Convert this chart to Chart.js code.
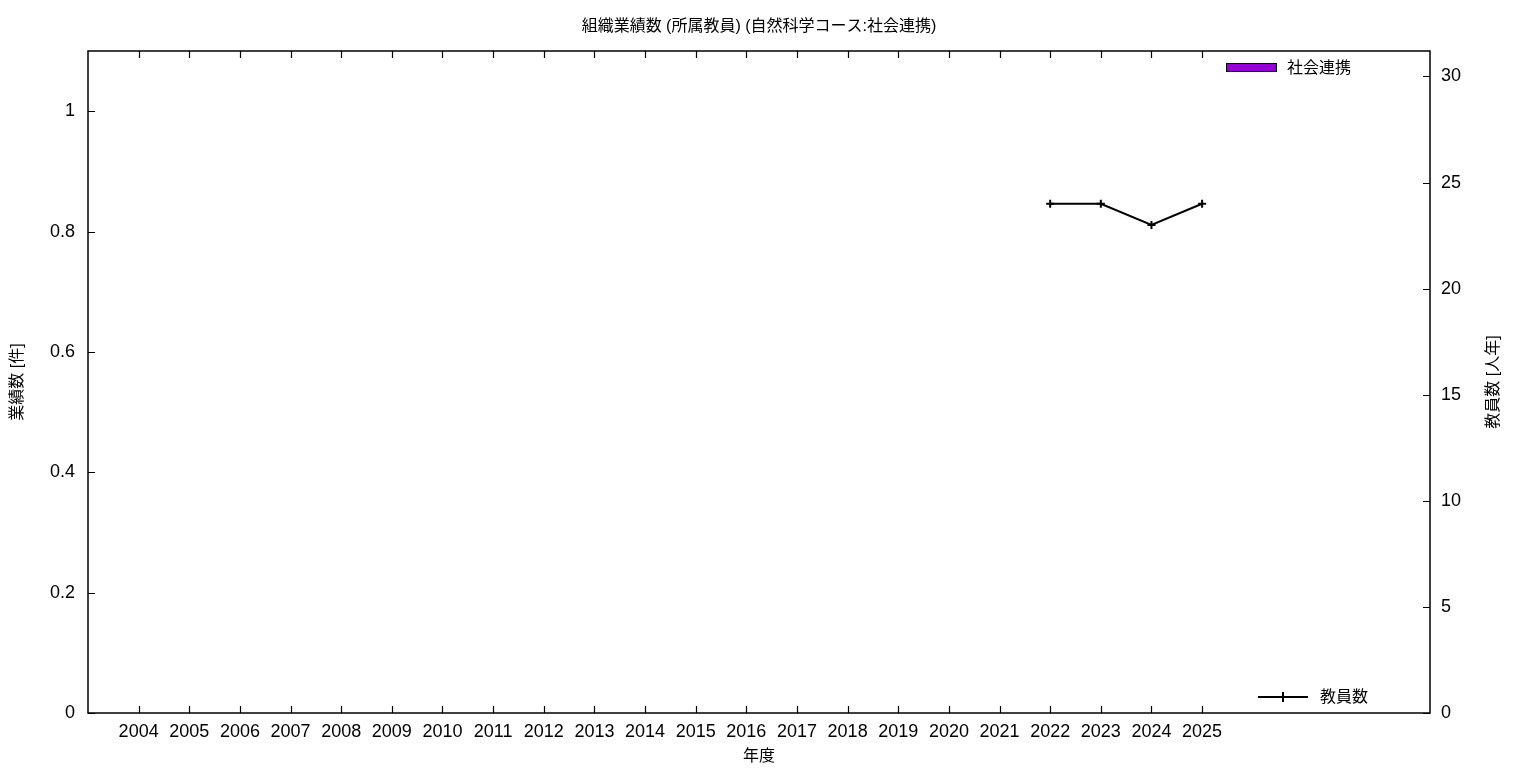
<!DOCTYPE html>
<html>
<head>
<meta charset="utf-8">
<script src="https://cdn.jsdelivr.net/npm/chart.js@4"></script>
<style>
html,body{margin:0;padding:0;background:#fff;}
#wrap{width:1536px;height:768px;}
</style>
</head>
<body>
<div id="wrap"><canvas id="c" width="1536" height="768"></canvas></div>
<script>
const years = [2004,2005,2006,2007,2008,2009,2010,2011,2012,2013,2014,2015,2016,2017,2018,2019,2020,2021,2022,2023,2024,2025];
const outreach = [0,0,0,0,0,0,0,0,0,0,0,0,0,0,0,0,0,0,0,0,0,0];
const staffYears = [2022,2023,2024,2025];
const staff = [24,24,23,24];
const leftTicks = [0,0.2,0.4,0.6,0.8,1];
const rightTicks = [0,5,10,15,20,25,30];
const chartTitle = '組織業績数 (所属教員) (自然科学コース:社会連携)';
const rightAxisTitle = '教員数 [人年]';

const FONT = '"Liberation Sans","Noto Sans CJK JP",sans-serif';

const framePlugin = {
  id: 'frame',
  afterDraw(chart) {
    const {ctx, chartArea: a, scales} = chart;
    ctx.save();
    ctx.strokeStyle = '#000';
    ctx.lineWidth = 1.5;
    ctx.strokeRect(a.left, a.top, a.right - a.left, a.bottom - a.top);
    ctx.lineWidth = 1.2;
    const L = 7;
    ctx.beginPath();
    scales.x.ticks.forEach(t => {
      const px = Math.round(scales.x.getPixelForValue(t.value)) + 0.5;
      ctx.moveTo(px, a.bottom); ctx.lineTo(px, a.bottom - L);
      ctx.moveTo(px, a.top); ctx.lineTo(px, a.top + L);
    });
    scales.y.ticks.forEach(t => {
      const py = Math.round(scales.y.getPixelForValue(t.value)) + 0.5;
      ctx.moveTo(a.left, py); ctx.lineTo(a.left + L, py);
    });
    scales.y2.ticks.forEach(t => {
      const py = Math.round(scales.y2.getPixelForValue(t.value)) + 0.5;
      ctx.moveTo(a.right, py); ctx.lineTo(a.right - L, py);
    });
    ctx.stroke();

    ctx.fillStyle = '#000';
    ctx.font = '16px ' + FONT;
    ctx.textAlign = 'center';
    ctx.textBaseline = 'middle';
    ctx.fillText(chartTitle, (a.left + a.right) / 2, 27);

    ctx.save();
    ctx.translate(a.right + 64, (a.top + a.bottom) / 2);
    ctx.rotate(-Math.PI / 2);
    ctx.fillText(rightAxisTitle, 0, 0);
    ctx.restore();

    const bar = chart.data.datasets[0];
    const line = chart.data.datasets[1];
    ctx.textAlign = 'left';
    const bx = a.right - 204, by = a.top + 12;
    ctx.fillStyle = bar.backgroundColor;
    ctx.fillRect(bx, by, 50, 8);
    ctx.lineWidth = 1;
    ctx.strokeStyle = '#000';
    ctx.strokeRect(bx + 0.5, by + 0.5, 50, 8);
    ctx.fillStyle = '#000';
    ctx.fillText(bar.label, bx + 61, by + 6);
    const lx = a.right - 172, ly = a.bottom - 16;
    ctx.strokeStyle = line.borderColor;
    ctx.lineWidth = 2;
    ctx.beginPath();
    ctx.moveTo(lx, ly); ctx.lineTo(lx + 50, ly);
    ctx.moveTo(lx + 25, ly - 5); ctx.lineTo(lx + 25, ly + 5);
    ctx.stroke();
    ctx.fillText(line.label, lx + 62, ly + 1);
    ctx.restore();
  }
};

new Chart(document.getElementById('c'), {
  data: {
    datasets: [
      {
        type: 'bar',
        label: '社会連携',
        data: years.map((y, i) => ({x: y, y: outreach[i]})),
        backgroundColor: '#9400d3',
        borderColor: '#000',
        borderWidth: 0,
        yAxisID: 'y',
        order: 2
      },
      {
        type: 'line',
        label: '教員数',
        data: staffYears.map((y, i) => ({x: y, y: staff[i]})),
        borderColor: '#000',
        backgroundColor: '#000',
        borderWidth: 2,
        pointStyle: 'cross',
        pointRadius: 4,
        pointBorderWidth: 2,
        pointHoverRadius: 4,
        tension: 0,
        yAxisID: 'y2',
        order: 1
      }
    ]
  },
  options: {
    responsive: false,
    animation: false,
    layout: {padding: {left: 0, right: 0, top: 51, bottom: 0}},
    plugins: {
      legend: {display: false},
      tooltip: {enabled: false},
      title: {display: false}
    },
    scales: {
      x: {
        type: 'linear',
        min: 2003,
        max: 2029.5,
        offset: false,
        afterBuildTicks(s) { s.ticks = years.map(v => ({value: v})); },
        afterFit(s) { s.height = 55; },
        grid: {display: false, drawTicks: false},
        border: {display: false},
        ticks: {
          color: '#000', padding: 8, maxRotation: 0, autoSkip: false,
          font: {family: FONT, size: 18},
          callback: v => String(v)
        },
        title: {
          display: true, text: '年度', color: '#000',
          font: {family: FONT, size: 16}, padding: {top: 0, bottom: 2}
        }
      },
      y: {
        position: 'left',
        min: 0, max: 1.1,
        afterBuildTicks(s) { s.ticks = leftTicks.map(v => ({value: v})); },
        afterFit(s) { s.width = 88; },
        grid: {display: false, drawTicks: false},
        border: {display: false},
        ticks: {
          color: '#000', padding: 13,
          font: {family: FONT, size: 18},
          callback: v => String(v)
        },
        title: {
          display: true, text: '業績数 [件]', color: '#000',
          font: {family: FONT, size: 16}, padding: {top: 8, bottom: 0}
        }
      },
      y2: {
        position: 'right',
        min: 0, max: 31.2,
        afterBuildTicks(s) { s.ticks = rightTicks.map(v => ({value: v})); },
        afterFit(s) { s.width = 106; },
        grid: {display: false, drawTicks: false},
        border: {display: false},
        ticks: {
          color: '#000', padding: 11,
          font: {family: FONT, size: 18},
          callback: v => String(v)
        },
        title: {display: false}
      }
    }
  },
  plugins: [framePlugin]
});
</script>
</body>
</html>
